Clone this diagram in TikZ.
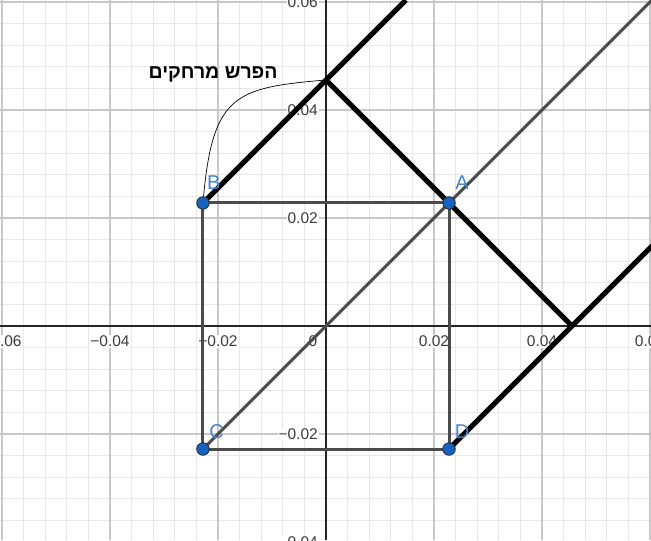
\documentclass[tikz,border=0pt]{standalone}
\usepackage{fontspec}
\setmainfont{Liberation Sans}
\newfontfamily\hebfont[Script=Hebrew]{Liberation Sans}
\TeXXeTstate=1
\usepackage{tikz}
\usetikzlibrary{positioning,calc}

\definecolor{ggblue}{RGB}{21,101,192}
\definecolor{ggminor}{RGB}{232,232,232}
\definecolor{ggmajor}{RGB}{200,200,200}
\definecolor{ggaxis}{RGB}{37,37,37}
\definecolor{ggedge}{RGB}{75,75,75}
\definecolor{ggtick}{RGB}{60,60,60}

\begin{document}
\begin{tikzpicture}[
    x=54pt, y=54pt,
    minorln/.style={ggminor, line width=0.9pt},
    majorln/.style={ggmajor, line width=1.2pt},
    axisln/.style={ggaxis, line width=1.1pt},
    tick/.style={text=ggtick, fill=white, inner sep=1pt,
                 font=\fontsize{15.5}{17}\selectfont},
    sqline/.style={draw=ggedge, line width=3pt, line cap=round},
    rayline/.style={draw=black, line width=5pt},
    dot/.style={circle, draw=black!85, fill=ggblue, line width=0.8pt,
                minimum size=12.5pt, inner sep=0pt},
    ptlbl/.style={text=ggblue!80!white, inner sep=0pt,
                  font=\fontsize{20}{22}\selectfont},
  ]

  % ---------- frame: origin at (326,326) of a 651x540 view ----------
  \useasboundingbox (-6.037,-3.963) rectangle (6.0185,6.037);
  \clip (-6.037,-3.963) rectangle (6.0185,6.037);

  % ---------- grid: minor every 0.004, major every 0.02 ----------
  \foreach \i in {-15,...,15}
    \draw[minorln] (\i*0.4,-3.963) -- (\i*0.4,6.037);
  \foreach \i in {-9,...,15}
    \draw[minorln] (-6.037,\i*0.4) -- (6.0185,\i*0.4);
  \foreach \v in {-6,-4,...,6}
    \draw[majorln] (\v,-3.963) -- (\v,6.037);
  \foreach \v in {-2,0,...,6}
    \draw[majorln] (-6.037,\v) -- (6.0185,\v);

  % ---------- axes ----------
  \draw[axisln] (-6.037,0) -- (6.0185,0);
  \draw[axisln] (0,-3.963) -- (0,6.037);

  % ---------- tick labels ----------
  \foreach \v/\t in {-6/−0.06,-4/−0.04,-2/−0.02,2/0.02,4/0.04,6/0.06}
    \node[tick] (xt\v) at (\v,-0.28) {\t};
  \node[tick] (xt0) at (-0.24,-0.28) {0};
  \foreach \v/\t in {-4/−0.04,-2/−0.02,2/0.02,4/0.04,6/0.06}
    \node[tick, anchor=east] (yt\v) at (-0.13,\v) {\t};

  % ---------- square ABCD ----------
  \coordinate (A) at (2.278,2.278);
  \coordinate (B) at (-2.278,2.278);
  \coordinate (C) at (-2.278,-2.278);
  \coordinate (D) at (2.278,-2.278);
  \draw[sqline] (B) -- (A);
  \draw[sqline] (A) -- (D);
  \draw[sqline] (D) -- (C);
  \draw[sqline] (C) -- (B);

  % ---------- diagonal y = x and the reflected path ----------
  \coordinate (P) at (0,4.556);
  \coordinate (Q) at (4.556,0);
  \coordinate (Tb) at (1.481,6.037);
  \coordinate (Td) at (6.04,1.484);
  \coordinate (Tc) at (6.04,6.04);
  \draw[sqline] (C) -- (Tc);
  \draw[rayline] (B) -- (Tb);
  \draw[rayline] (P) -- (Q);
  \draw[rayline] (D) -- (Td);

  % ---------- annotation curve ----------
  \draw[black, line width=0.7pt] (B) .. controls (-2.11,4.3) and (-1.69,4.41) .. (P);

  % ---------- points and labels ----------
  \foreach \p in {A,B,C,D}
    \node[dot] (dot\p) at (\p) {};
  \node[ptlbl] (lA) at ([shift={(0.24,0.38)}]A) {A};
  \node[ptlbl] (lB) at ([shift={(0.2,0.38)}]B) {B};
  \node[ptlbl] (lC) at ([shift={(0.25,0.33)}]C) {C};
  \node[ptlbl] (lD) at ([shift={(0.24,0.33)}]D) {D};

  \node[font=\fontsize{19.5}{21}\selectfont\bfseries] (diff) at (-2.09,4.65)
    {\hebfont\beginR הפרש מרחקים\endR};

\end{tikzpicture}
\end{document}
